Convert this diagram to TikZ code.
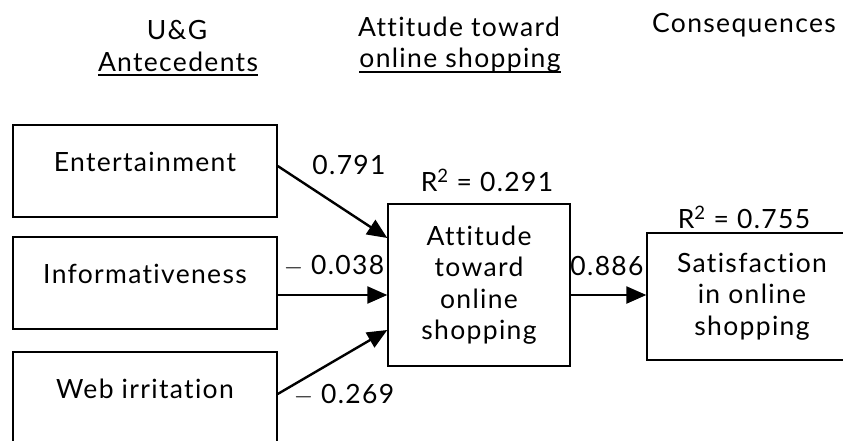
\documentclass[tikz,border=0pt]{standalone}
\usepackage{fontspec}
\setmainfont[LetterSpace=5,Ligatures=NoCommon]{Lato}
\usepackage{tikz}
\usetikzlibrary{arrows.meta}

\begin{document}
\begin{tikzpicture}[x=1pt,y=1pt]
                    \tikzstyle{every node}+=[inner sep=0pt,font=\fontsize{26.5}{31.5}\selectfont]
                    \tikzstyle{srcbox}=[draw,line width=1.4pt,minimum width=264pt,minimum height=92pt,text height=18pt,text depth=18pt]
                    \tikzstyle{bigbox}=[draw,line width=1.4pt,align=center]
                    \tikzstyle{link}=[line width=2.4pt,-{Triangle[length=20pt,width=17pt]}]
                    \tikzstyle{uline}=[line width=1.2pt]
                    \useasboundingbox (0,0) rectangle (843,440);
                    \draw (177,400) node [anchor=base] (ug) {U\&G};
                    \draw (178,368) node [anchor=base] (ante) {Antecedents};
                    \draw [uline] ([yshift=-3pt]ante.base west) -- ([yshift=-3pt]ante.base east);
                    \draw (459,403) node [anchor=base] (atttop) {Attitude toward};
                    \draw (460,372) node [anchor=base] (attbot) {online shopping};
                    \draw [uline] ([yshift=-4pt]attbot.base west) -- ([yshift=-4pt]attbot.base east);
                    \draw (652,407) node [anchor=base west] (cons) {Consequences};
                    \draw (145,269) node [srcbox] (ent) {Entertainment};
                    \draw (145,157) node [srcbox] (inf) {Informativeness};
                    \draw (145,42) node [srcbox] (web) {Web irritation};
                    \draw (479,155) node [bigbox,minimum width=182pt,minimum height=162pt] (att) {Attitude\\toward\\online\\shopping};
                    \draw (752,143.5) node [bigbox,minimum width=210pt,minimum height=127pt] (sat) {Satisfaction\\in online\\shopping};
                    \draw [link] ([yshift=5pt]ent.east) -- ([yshift=47pt]att.west);
                    \draw [link] ([yshift=-12pt]inf.east) -- ([yshift=-10pt]att.west);
                    \draw [link] ([yshift=4pt]web.east) -- ([yshift=-45pt]att.west);
                    \draw [link] ([yshift=-10pt]att.east) -- ([yshift=-10pt]att.east -| sat.west);
                    \draw (349,275) node (w1) {0.791};
                    \draw (334,174) node (w2) {$-$ 0.038};
                    \draw (344,45) node (w3) {$-$ 0.269};
                    \draw (607,174) node (w4) {0.886};
                    \draw (487,260) node (r1) {R\textsuperscript{2} = 0.291};
                    \draw (744,223) node (r2) {R\textsuperscript{2} = 0.755};
                \end{tikzpicture}
\end{document}
